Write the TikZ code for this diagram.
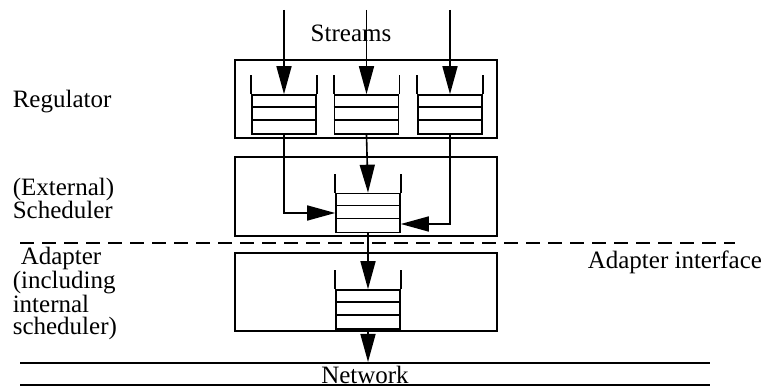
\documentclass[tikz,border=0pt]{standalone}
\usepackage{fontspec}
\setmainfont{Liberation Serif}
\usepackage{tikz}
\usetikzlibrary{arrows.meta}
\tikzset{
  layer box/.style={draw,rectangle,minimum width=262pt,inner sep=0pt},
  queue/.style={draw,rectangle,minimum width=64pt,minimum height=39pt,inner sep=0pt},
  label text/.style={font=\fontsize{25}{22.3}\selectfont,align=left,inner sep=0pt},
  flow/.style={-{Triangle[length=28pt,width=15pt]}}
}
% slots and open walls of a queue
\newcommand{\queueslots}[1]{%
  \draw ([yshift=-13pt]#1.north west) -- ([yshift=-13pt]#1.north east);
  \draw ([yshift=-26pt]#1.north west) -- ([yshift=-26pt]#1.north east);
  \draw (#1.north west) -- ++(0,-19);
  \draw (#1.north east) -- ++(0,-19);
}

\begin{document}
\begin{tikzpicture}[x=1pt,y=-1pt,line width=1.6pt]
    \useasboundingbox (0,0) rectangle (766,387);

    % layers
    \node[layer box,minimum height=78pt] (reg) at (366,99) {};
    \node[layer box,minimum height=79pt] (sch) at (366,196.5) {};
    \node[layer box,minimum height=78pt] (ada) at (366,292) {};

    % queues
    \node[queue] (q1) at (284,114.5) {};
    \node[queue] (q2) at (366.5,114.5) {};
    \node[queue] (q3) at (450,114.5) {};
    \node[queue] (sq) at (368,213) {};
    \node[queue] (aq) at (368,309.5) {};
    \queueslots{q1}
    \queueslots{q2}
    \queueslots{q3}
    \queueslots{sq}
    \queueslots{aq}

    % labels
    \node[label text,anchor=west] (lreg) at (12,102) {Regulator};
    \node[label text,anchor=west] (lsch) at (12,198.5) {(External)\\Scheduler};
    \node[label text,anchor=west] (lada) at (12,293.5) {\hspace*{8pt}Adapter\\(including\\internal\\scheduler)};
    \node[label text] (streams) at (351,33) {Streams};
    \node[label text,anchor=west] (ifc) at (587,262) {Adapter interface};
    \node[label text,anchor=base] (net) at (365,383) {Network};

    % streams in
    \coordinate (s1) at (q1.center |- 0,10);
    \coordinate (s2) at (q2.center |- 0,10);
    \coordinate (s3) at (q3.center |- 0,10);
    \draw[flow] (s1) -- (q1.north);
    \draw[flow] (s2) -- (q2.north);
    \draw[flow] (s3) -- (q3.north);

    % regulator to scheduler
    \draw[flow] (q1.south) |- (sq.west);
    \draw[flow] (q2.south) -- (sq.north);
    \draw[flow] (q3.south) |- ([yshift=-11pt]sq.east);

    % scheduler to adapter to network
    \coordinate (netin) at (aq.center |- 0,362);
    \draw[flow] (sq.south) -- (aq.north);
    \draw[flow] (aq.south) -- (netin);

    % adapter interface and network
    \coordinate (d1) at (20,243);
    \coordinate (d2) at (735,243);
    \draw[line width=1.4pt,dash pattern=on 14pt off 8pt] (d1) -- (d2);
    \coordinate (n1) at (20,363);
    \coordinate (n2) at (710,363);
    \coordinate (n3) at (20,385);
    \coordinate (n4) at (710,385);
    \draw (n1) -- (n2);
    \draw (n3) -- (n4);
\end{tikzpicture}
\end{document}
